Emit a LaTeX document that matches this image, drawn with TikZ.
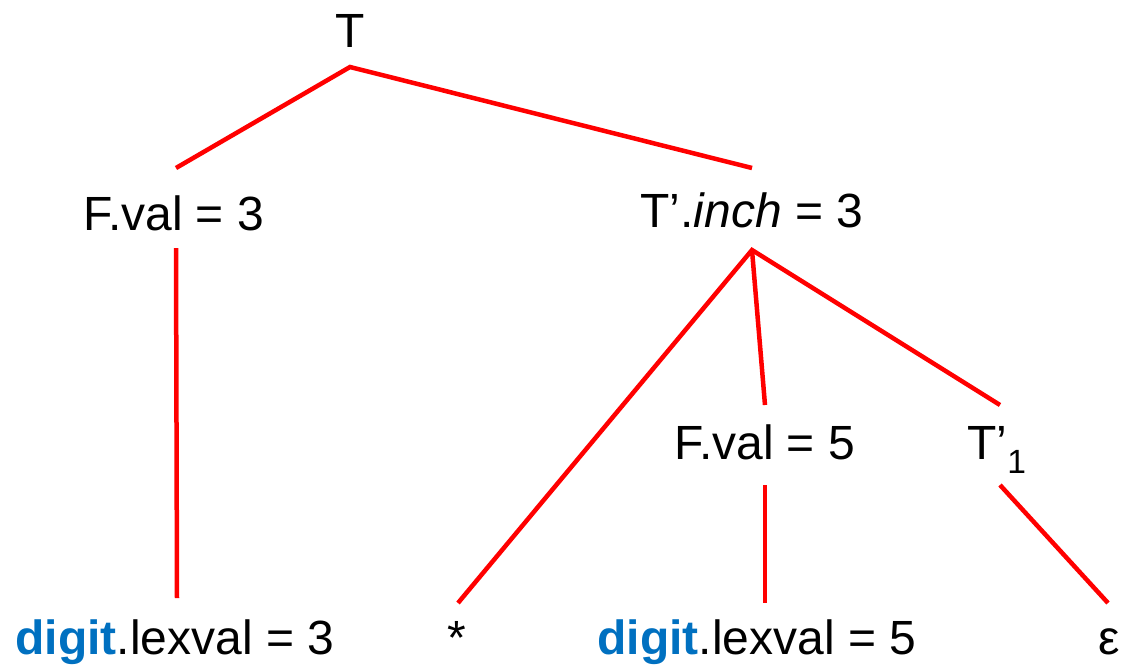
\documentclass[tikz,border=0pt]{standalone}
\usepackage{fontspec}
\setmainfont{Liberation Sans}
\usetikzlibrary{positioning}
\definecolor{treered}{HTML}{FF0000}
\definecolor{digitblue}{HTML}{0070C0}
\newcommand{\digtok}{\textcolor{digitblue}{\textbf{digit}}}

\begin{document}
\begin{tikzpicture}[x=1pt,y=-1pt,
  lbl/.style={anchor=base, inner sep=0pt, font=\fontsize{48}{58}\selectfont},
  branch/.style={draw=treered, line width=4.5pt}]
  \useasboundingbox (0,0) rectangle (1122,665);
  % labels of the tree
  \node[lbl] (t) at (350,47) {T};
  \node[lbl] (fval3) at (174,230) {F.val = 3};
  \node[lbl] (tinch) at (752,227) {T’.\textit{inch} = 3};
  \node[lbl] (lex3) at (175,654) {\digtok.lexval = 3};
  \node[lbl] (star) at (457,654) {*};
  \node[lbl] (fval5) at (765,459) {F.val = 5};
  \node[lbl] (tone) at (997,459) {T’\textsubscript{1}};
  \node[lbl] (lex5) at (757,654) {\digtok.lexval = 5};
  \node[lbl] (eps) at (1109,654) {ε};
  % end points of the branches
  \coordinate (t-s) at (350,67);
  \coordinate (fval3-n) at (176,168);
  \coordinate (tinch-n) at (752,168);
  \coordinate (fval3-s) at (176,248);
  \coordinate (lex3-n) at (177,598);
  \coordinate (tinch-s) at (752,250);
  \coordinate (star-n) at (458,603);
  \coordinate (fval5-n) at (765,405);
  \coordinate (tone-n) at (1000,405);
  \coordinate (fval5-s) at (765,485);
  \coordinate (lex5-n) at (765,603);
  \coordinate (tone-s) at (1000,485);
  \coordinate (eps-n) at (1108,603);
  % branches
  \draw[branch] (fval3-n) -- (t-s) -- (tinch-n);
  \draw[branch] (fval3-s) -- (lex3-n);
  \draw[branch] (star-n) -- (tinch-s) -- (tone-n);
  \draw[branch] (tinch-s) -- (fval5-n);
  \draw[branch] (fval5-s) -- (lex5-n);
  \draw[branch] (tone-s) -- (eps-n);
\end{tikzpicture}
\end{document}
